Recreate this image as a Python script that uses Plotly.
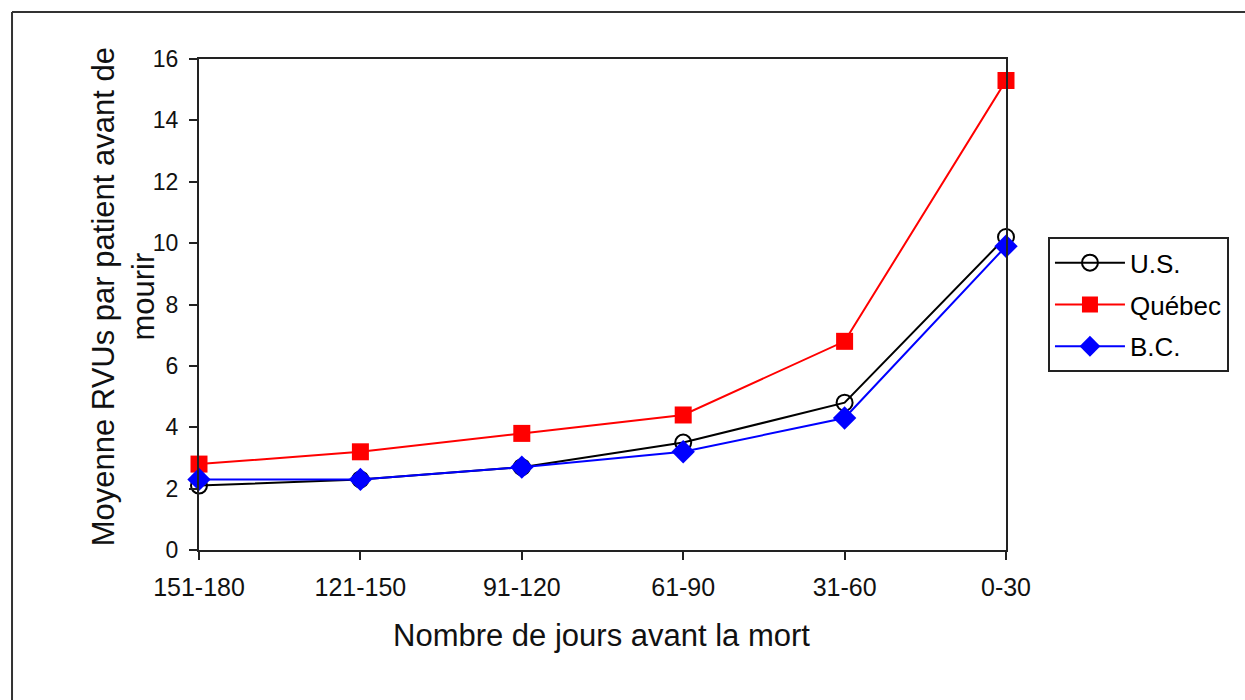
import plotly.graph_objects as go

# Data
categories = ["151-180", "121-150", "91-120", "61-90", "31-60", "0-30"]
us = [2.1, 2.3, 2.7, 3.5, 4.8, 10.2]
quebec = [2.8, 3.2, 3.8, 4.4, 6.8, 15.3]
bc = [2.3, 2.3, 2.7, 3.2, 4.3, 9.9]

FONT = "Liberation Sans, Arial, sans-serif"
x_pos = list(range(len(categories)))

fig = go.Figure()

# U.S. - black line, open circles
fig.add_trace(go.Scatter(
    x=x_pos, y=us, name="U.S.", mode="lines+markers", legendgroup="us",
    line=dict(color="black", width=2),
    marker=dict(symbol="circle-open", size=16, color="black", line=dict(width=2)),
    cliponaxis=False,
))

# Québec - red line, squares
fig.add_trace(go.Scatter(
    x=x_pos, y=quebec, name="Québec", mode="lines+markers", legendgroup="qc",
    line=dict(color="#ff0000", width=2),
    marker=dict(symbol="square", size=17, color="#ff0000"),
    cliponaxis=False,
))

# B.C. - blue line, diamonds
fig.add_trace(go.Scatter(
    x=x_pos, y=bc, name="B.C.", mode="lines+markers", legendgroup="bc",
    line=dict(color="#0000ff", width=2),
    marker=dict(symbol="diamond", size=18, color="#0000ff"),
    cliponaxis=False,
))

fig.update_layout(
    width=1245, height=700,
    margin=dict(l=199, r=239, t=59, b=150),
    paper_bgcolor="white", plot_bgcolor="white",
    font=dict(family=FONT, color="black"),
    showlegend=True,
    legend=dict(
        x=1.052, y=0.637, xanchor="left", yanchor="top",
        bordercolor="#222", borderwidth=2, bgcolor="white",
        font=dict(size=26, family=FONT, color="black"),
        tracegroupgap=5, itemwidth=70,
    ),
)

fig.update_xaxes(
    range=[0, 5], tickvals=x_pos, ticktext=categories,
    showline=True, linecolor="#222", linewidth=2, mirror=True,
    ticks="outside", ticklen=8, tickcolor="#222", tickwidth=2,
    showgrid=False, zeroline=False,
    tickfont=dict(size=25, family=FONT, color="#111"),
    ticklabelstandoff=6,
)
fig.update_yaxes(
    range=[0, 16], dtick=2,
    showline=True, linecolor="#222", linewidth=2, mirror=True,
    ticks="outside", ticklen=8, tickcolor="#222", tickwidth=2,
    showgrid=False, zeroline=False,
    tickfont=dict(size=23, family=FONT, color="#111"),
    ticklabelstandoff=6,
)

# Axis titles
fig.add_annotation(
    text="Moyenne RVUs par patient avant de<br>mourir",
    xref="paper", yref="paper", x=-0.094, y=0.515,
    xanchor="center", yanchor="middle", textangle=-90,
    showarrow=False, font=dict(size=31, family=FONT, color="#111"),
)
fig.add_annotation(
    text="Nombre de jours avant la mort",
    xref="paper", yref="paper", x=0.499, y=-0.175,
    xanchor="center", yanchor="middle",
    showarrow=False, font=dict(size=31, family=FONT, color="#111"),
)

# Outer chart frame: only its left and top edges are in view
fig.add_shape(
    type="line", xref="paper", yref="paper",
    x0=-0.2317, x1=-0.2317, y0=-0.4, y1=1.0957,
    line=dict(color="#333", width=2), layer="below",
)
fig.add_shape(
    type="line", xref="paper", yref="paper",
    x0=-0.2317, x1=1.5, y0=1.0957, y1=1.0957,
    line=dict(color="#333", width=2), layer="below",
)

# drop the default body margin so the figure fills the window exactly
fig.write_html(
    "out.html",
    config={"displayModeBar": False},
    post_script="document.body.style.margin='0';document.body.style.overflow='hidden';",
)
